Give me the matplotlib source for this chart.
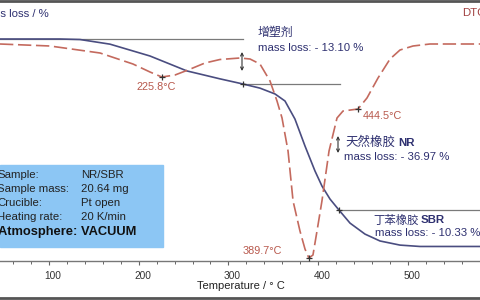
import matplotlib.pyplot as plt
import matplotlib.transforms as mtransforms
import numpy as np
from matplotlib.lines import Line2D
from matplotlib.patches import Rectangle

plt.rcParams['font.family'] = ['Liberation Sans', 'Noto Sans CJK SC']

# TGA curve: temperature (°C) vs mass (%)
tga_temp = [45.4, 112.3, 134.6, 168.0, 212.6, 253.8, 268.3, 290.6, 316.3, 335.2,
            352.0, 363.1, 374.2, 385.4, 396.5, 404.3, 413.3, 423.3, 435.6, 452.3,
            469.0, 491.3, 513.6, 580.5]
tga_mass = [100.0, 100.0, 99.85, 98.5, 95.05, 90.7, 89.8, 88.4, 86.9, 85.7,
            84.0, 81.95, 76.7, 68.85, 61.6, 57.2, 53.4, 50.2, 46.4, 43.2,
            41.2, 40.0, 39.6, 39.6]

# DTG curve: temperature (°C) vs rate (%/min)
dtg_temp = [45.4, 101.1, 156.9, 193.6, 212.6, 225.8, 240.5, 255.0, 273.9, 290.6,
            312.9, 324.1, 335.2, 346.4, 354.2, 359.8, 366.5, 372.1, 379.8, 385.4,
            389.7, 394.3, 398.8, 404.3, 412.2, 421.1, 427.8, 444.5, 454.5, 466.8,
            480.2, 491.3, 505.8, 524.7, 580.5]
dtg_rate = [0.0, -0.2, -0.9, -2.0, -2.8, -3.3, -3.1, -2.6, -1.9, -1.55,
            -1.4, -1.5, -2.0, -3.7, -5.7, -7.4, -10.7, -15.7, -18.7, -20.5,
            -21.4, -21.1, -18.7, -15.7, -10.7, -7.4, -6.7, -6.5, -5.4, -3.4,
            -1.5, -0.6, -0.2, 0.0, 0.0]

# step levels (mass %) and their temperature spans
step_levels = [100.0, 86.9, 50.2]
step_spans = [(45.4, 316.3), (316.3, 424.4), (423.3, 580.5)]
step_points_t = [316.3, 423.3]
step_points_m = [86.9, 50.2]

peak_temps = [225.8, 389.7, 444.5]
peak_rates = [-3.3, -21.4, -6.5]
peak_labels = ['225.8°C', '389.7°C', '444.5°C']

info_keys = ['Sample:', 'Sample mass:', 'Crucible:', 'Heating rate:']
info_vals = ['NR/SBR', '20.64 mg', 'Pt open', '20 K/min']

navy = '#2e3070'
tga_col = '#4a4d80'
dtg_col = '#c46a5e'
lab_col = '#b8584c'

W, H = 480, 300
fig = plt.figure(figsize=(4.8, 3.0), dpi=100)


def fx(p):
    return p / W


def fy(p):
    return 1 - p / H


ax = fig.add_axes([0, fy(261), 1, (261 - 31) / H])
ax2 = ax.twinx()

ax.set_xlim(45.4, 580.5)
ax.set_ylim(35.37, 102.33)
ax2.set_ylim(-21.7, 1.3)

for a in (ax, ax2):
    for s in ('top', 'left', 'right'):
        a.spines[s].set_visible(False)
    a.patch.set_visible(False)
ax2.spines['bottom'].set_visible(False)
ax2.set_yticks([])
ax.set_yticks([])
ax.spines['bottom'].set_color('#777777')
ax.spines['bottom'].set_linewidth(1.0)

ax.set_xticks([100, 200, 300, 400, 500])
ax.set_xticks(np.arange(60, 580, 20), minor=True)
ax.tick_params(axis='x', which='major', length=3, width=0.8, color='#666666',
               labelsize=7.3, labelcolor='#333333', pad=4)
ax.tick_params(axis='x', which='minor', length=2, width=0.7, color='#666666')
# labels sit a few pixels right of their ticks in the original
shift = mtransforms.ScaledTranslation(4 / 100, 0, fig.dpi_scale_trans)
for lbl in ax.get_xticklabels():
    lbl.set_transform(lbl.get_transform() + shift)

# reference lines for steps
for lvl, (t0, t1) in zip(step_levels, step_spans):
    ax.plot([t0, t1], [lvl, lvl], color='#7a7a7a', lw=0.9, zorder=2)

ax2.plot(dtg_temp, dtg_rate, color=dtg_col, lw=1.2, ls=(0, (8, 2.8)), zorder=3)
ax.plot(tga_temp, tga_mass, color=tga_col, lw=1.2, zorder=4)
ax.plot(step_points_t, step_points_m, ls='none', marker='+', ms=4,
        color='#333333', mew=0.9, zorder=5)
ax2.plot(peak_temps, peak_rates, ls='none', marker='+', ms=4,
         color='#333333', mew=0.9, zorder=5)

# peak labels
ax2.annotate(peak_labels[0], (peak_temps[0], peak_rates[0]), xytext=(-6, -10),
             textcoords='offset pixels', ha='center', va='center',
             fontsize=7.8, color=lab_col)
ax2.annotate(peak_labels[1], (peak_temps[1], peak_rates[1]), xytext=(-27, 7),
             textcoords='offset pixels', ha='right', va='center',
             fontsize=7.8, color=lab_col)
ax2.annotate(peak_labels[2], (peak_temps[2], peak_rates[2]), xytext=(5, -7),
             textcoords='offset pixels', ha='left', va='center',
             fontsize=7.8, color=lab_col)

# step annotations
fig.text(fx(258), fy(33), '增塑剂', fontsize=8.6, color=navy, va='center')
fig.text(fx(258), fy(48), 'mass loss: - 13.10 %', fontsize=8.2, color=navy,
         va='center')
fig.text(fx(345), fy(143), '天然橡胶', fontsize=9, color=navy, va='center')
fig.text(fx(398), fy(143), 'NR', fontsize=8.2, color=navy, va='center',
         fontweight='bold')
fig.text(fx(344), fy(157), 'mass loss: - 36.97 %', fontsize=8.2, color=navy,
         va='center')
fig.text(fx(373), fy(220), '丁苯橡胶', fontsize=8.2, color=navy, va='center')
fig.text(fx(421), fy(220), 'SBR', fontsize=8.2, color=navy, va='center',
         fontweight='bold')
fig.text(fx(375), fy(233), 'mass loss: - 10.33 %', fontsize=8.2, color=navy,
         va='center')

for x0, y0, y1 in [(242, 52, 71), (338, 136, 153)]:
    ax.annotate('', xy=(fx(x0), fy(y0)), xytext=(fx(x0), fy(y1)),
                xycoords='figure fraction', textcoords='figure fraction',
                arrowprops=dict(arrowstyle='<->', color='#333333', lw=0.8,
                                mutation_scale=5, shrinkA=0, shrinkB=0))

# axis titles
fig.text(fx(49), fy(14), 'Mass loss / %', fontsize=8.2, color=navy,
         ha='right', va='center')
fig.text(fx(462), fy(13), 'DTG', fontsize=8.2, color='#a04040',
         ha='left', va='center')
fig.text(fx(241), fy(286), 'Temperature / ° C', fontsize=8, color='#222222',
         ha='center', va='center')

# info box
fig.patches.append(Rectangle((0, fy(247)), fx(163), 82 / H,
                             transform=fig.transFigure, color='#8cc6f4',
                             zorder=0))
rows = [175, 189, 203, 217]
for k, v, r in zip(info_keys, info_vals, rows):
    fig.text(fx(-3), fy(r), k, fontsize=8.2, color='#222222', va='center')
    fig.text(fx(81), fy(r), v, fontsize=8.2, color='#222222', va='center')
fig.text(fx(-2), fy(232), 'Atmosphere: VACUUM', fontsize=9.3,
         fontweight='bold', color='#111111', va='center')

# frame lines at top and bottom
fig.add_artist(Line2D([0, 1], [fy(1), fy(1)], color='#555555', lw=2))
fig.add_artist(Line2D([0, 1], [fy(298), fy(298)], color='#555555', lw=2))

fig.savefig('out.png', dpi=100)
